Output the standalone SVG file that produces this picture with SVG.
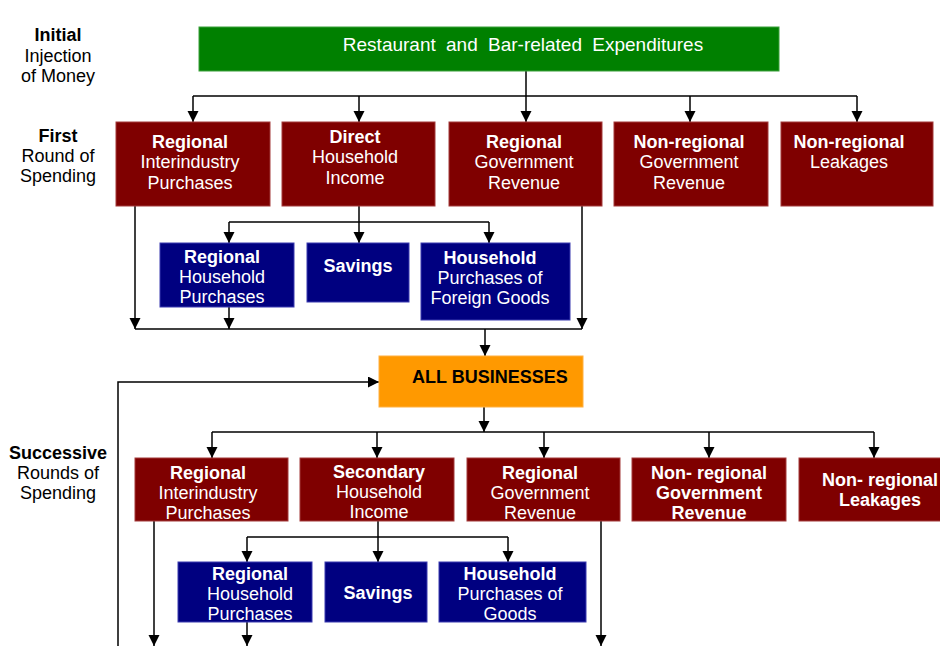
<svg xmlns="http://www.w3.org/2000/svg" width="940" height="646" viewBox="0 0 940 646">
  <defs>
    <marker id="arrow" markerUnits="userSpaceOnUse" markerWidth="12" markerHeight="12" refX="11" refY="5.5" orient="auto">
      <path d="M0,0 L11,5.5 L0,11 z" fill="#000"/>
    </marker>
    <style>
      text { font-family: "Liberation Sans", Arial, sans-serif; font-size: 18px; text-anchor: middle; }
      .lbl { fill: #000; }
      .w { fill: #fff; }
      .b { font-weight: bold; }
      .red { fill: #7f0000; stroke: #a33a3a; stroke-width: 1; }
      .blue { fill: #000080; stroke: #3a3ab0; stroke-width: 1; }
      .green { fill: #008000; stroke: #3aa03a; stroke-width: 1; }
      .orange { fill: #ff9900; stroke: #ffb040; stroke-width: 1; }
      .conn { fill: none; stroke: #000; stroke-width: 1.5; }
      .arr { marker-end: url(#arrow); }
    </style>
  </defs>

  <rect x="0" y="0" width="940" height="646" fill="#fff"/>

  <!-- stage labels -->
  <g id="label-initial">
    <text class="lbl b" x="58" y="41">Initial</text>
    <text class="lbl" x="58" y="62">Injection</text>
    <text class="lbl" x="58" y="82">of Money</text>
  </g>
  <g id="label-first">
    <text class="lbl b" x="58" y="142">First</text>
    <text class="lbl" x="58" y="162">Round of</text>
    <text class="lbl" x="58" y="182">Spending</text>
  </g>
  <g id="label-successive">
    <text class="lbl b" x="58" y="459">Successive</text>
    <text class="lbl" x="58" y="479">Rounds of</text>
    <text class="lbl" x="58" y="499">Spending</text>
  </g>

  <!-- connectors -->
  <g id="connectors">
    <!-- expenditures to first round -->
    <line class="conn arr" x1="526" y1="71" x2="526" y2="122"/>
    <line class="conn" x1="193" y1="96" x2="857" y2="96"/>
    <line class="conn arr" x1="193" y1="96" x2="193" y2="122"/>
    <line class="conn arr" x1="359" y1="96" x2="359" y2="122"/>
    <line class="conn arr" x1="690" y1="96" x2="690" y2="122"/>
    <line class="conn arr" x1="857" y1="96" x2="857" y2="122"/>
    <!-- direct household income split -->
    <line class="conn arr" x1="359" y1="206" x2="359" y2="243"/>
    <line class="conn" x1="229" y1="222" x2="489" y2="222"/>
    <line class="conn arr" x1="229" y1="222" x2="229" y2="243"/>
    <line class="conn arr" x1="489" y1="222" x2="489" y2="243"/>
    <!-- collection into businesses -->
    <line class="conn arr" x1="135" y1="206" x2="135" y2="329"/>
    <line class="conn arr" x1="582" y1="206" x2="582" y2="329"/>
    <line class="conn arr" x1="229" y1="307" x2="229" y2="329"/>
    <line class="conn" x1="135" y1="329" x2="582" y2="329"/>
    <line class="conn arr" x1="485" y1="329" x2="485" y2="356"/>
    <!-- feedback loop -->
    <polyline class="conn arr" points="118,646 118,382 379,382"/>
    <!-- businesses to successive rounds -->
    <line class="conn arr" x1="484" y1="407" x2="484" y2="432"/>
    <line class="conn" x1="212" y1="432" x2="874" y2="432"/>
    <line class="conn arr" x1="212" y1="432" x2="212" y2="458"/>
    <line class="conn arr" x1="377" y1="432" x2="377" y2="458"/>
    <line class="conn arr" x1="544" y1="432" x2="544" y2="458"/>
    <line class="conn arr" x1="709" y1="432" x2="709" y2="458"/>
    <line class="conn arr" x1="874" y1="432" x2="874" y2="458"/>
    <!-- secondary household income split -->
    <line class="conn arr" x1="378" y1="521" x2="378" y2="562"/>
    <line class="conn" x1="247" y1="537" x2="508" y2="537"/>
    <line class="conn arr" x1="247" y1="537" x2="247" y2="562"/>
    <line class="conn arr" x1="508" y1="537" x2="508" y2="562"/>
    <!-- continuing flows -->
    <line class="conn arr" x1="154" y1="521" x2="154" y2="646"/>
    <line class="conn arr" x1="247" y1="622" x2="247" y2="646"/>
    <line class="conn arr" x1="601" y1="521" x2="601" y2="646"/>
  </g>

  <!-- initial injection -->
  <g id="expenditures">
    <rect class="green" x="199" y="27" width="580" height="44"/>
    <text class="w" x="523" y="51" style="font-size:19px" word-spacing="5">Restaurant and Bar-related Expenditures</text>
  </g>

  <!-- first round -->
  <g id="r1-interindustry">
    <rect class="red" x="116" y="122" width="154" height="84"/>
    <text class="w b" x="190" y="148">Regional</text>
    <text class="w" x="190" y="168">Interindustry</text>
    <text class="w" x="190" y="189">Purchases</text>
  </g>
  <g id="r1-household-income">
    <rect class="red" x="282" y="122" width="153" height="84"/>
    <text class="w b" x="355" y="143">Direct</text>
    <text class="w" x="355" y="163">Household</text>
    <text class="w" x="355" y="184">Income</text>
  </g>
  <g id="r1-regional-gov">
    <rect class="red" x="449" y="122" width="153" height="84"/>
    <text class="w b" x="524" y="148">Regional</text>
    <text class="w" x="524" y="168">Government</text>
    <text class="w" x="524" y="189">Revenue</text>
  </g>
  <g id="r1-nonregional-gov">
    <rect class="red" x="614" y="122" width="154" height="84"/>
    <text class="w b" x="689" y="148">Non-regional</text>
    <text class="w" x="689" y="168">Government</text>
    <text class="w" x="689" y="189">Revenue</text>
  </g>
  <g id="r1-leakages">
    <rect class="red" x="781" y="122" width="152" height="84"/>
    <text class="w b" x="849" y="148">Non-regional</text>
    <text class="w" x="849" y="168">Leakages</text>
  </g>

  <g id="r1-regional-household">
    <rect class="blue" x="160" y="243" width="134" height="64"/>
    <text class="w b" x="222" y="263">Regional</text>
    <text class="w" x="222" y="283">Household</text>
    <text class="w" x="222" y="303">Purchases</text>
  </g>
  <g id="r1-savings">
    <rect class="blue" x="307" y="243" width="102" height="59"/>
    <text class="w b" x="358" y="272">Savings</text>
  </g>
  <g id="r1-foreign-goods">
    <rect class="blue" x="421" y="243" width="149" height="77"/>
    <text class="w b" x="490" y="264">Household</text>
    <text class="w" x="490" y="284">Purchases of</text>
    <text class="w" x="490" y="304">Foreign Goods</text>
  </g>

  <g id="all-businesses">
    <rect class="orange" x="379" y="356" width="204" height="51"/>
    <text class="lbl b" x="412" y="383" style="text-anchor:start">ALL BUSINESSES</text>
  </g>

  <!-- successive rounds -->
  <g id="r2-interindustry">
    <rect class="red" x="135" y="458" width="153" height="63"/>
    <text class="w b" x="208" y="479">Regional</text>
    <text class="w" x="208" y="499">Interindustry</text>
    <text class="w" x="208" y="519">Purchases</text>
  </g>
  <g id="r2-household-income">
    <rect class="red" x="300" y="458" width="154" height="63"/>
    <text class="w b" x="379" y="478">Secondary</text>
    <text class="w" x="379" y="498">Household</text>
    <text class="w" x="379" y="518">Income</text>
  </g>
  <g id="r2-regional-gov">
    <rect class="red" x="467" y="458" width="153" height="63"/>
    <text class="w b" x="540" y="479">Regional</text>
    <text class="w" x="540" y="499">Government</text>
    <text class="w" x="540" y="519">Revenue</text>
  </g>
  <g id="r2-nonregional-gov">
    <rect class="red" x="632" y="458" width="154" height="63"/>
    <text class="w b" x="709" y="479">Non- regional</text>
    <text class="w b" x="709" y="499">Government</text>
    <text class="w b" x="709" y="519">Revenue</text>
  </g>
  <g id="r2-leakages">
    <rect class="red" x="799" y="458" width="154" height="63"/>
    <text class="w b" x="880" y="486">Non- regional</text>
    <text class="w b" x="880" y="506">Leakages</text>
  </g>

  <g id="r2-regional-household">
    <rect class="blue" x="178" y="562" width="134" height="60"/>
    <text class="w b" x="250" y="580">Regional</text>
    <text class="w" x="250" y="600">Household</text>
    <text class="w" x="250" y="620">Purchases</text>
  </g>
  <g id="r2-savings">
    <rect class="blue" x="325" y="562" width="102" height="60"/>
    <text class="w b" x="378" y="599">Savings</text>
  </g>
  <g id="r2-goods">
    <rect class="blue" x="439" y="562" width="147" height="60"/>
    <text class="w b" x="510" y="580">Household</text>
    <text class="w" x="510" y="600">Purchases of</text>
    <text class="w" x="510" y="620">Goods</text>
  </g>
</svg>
